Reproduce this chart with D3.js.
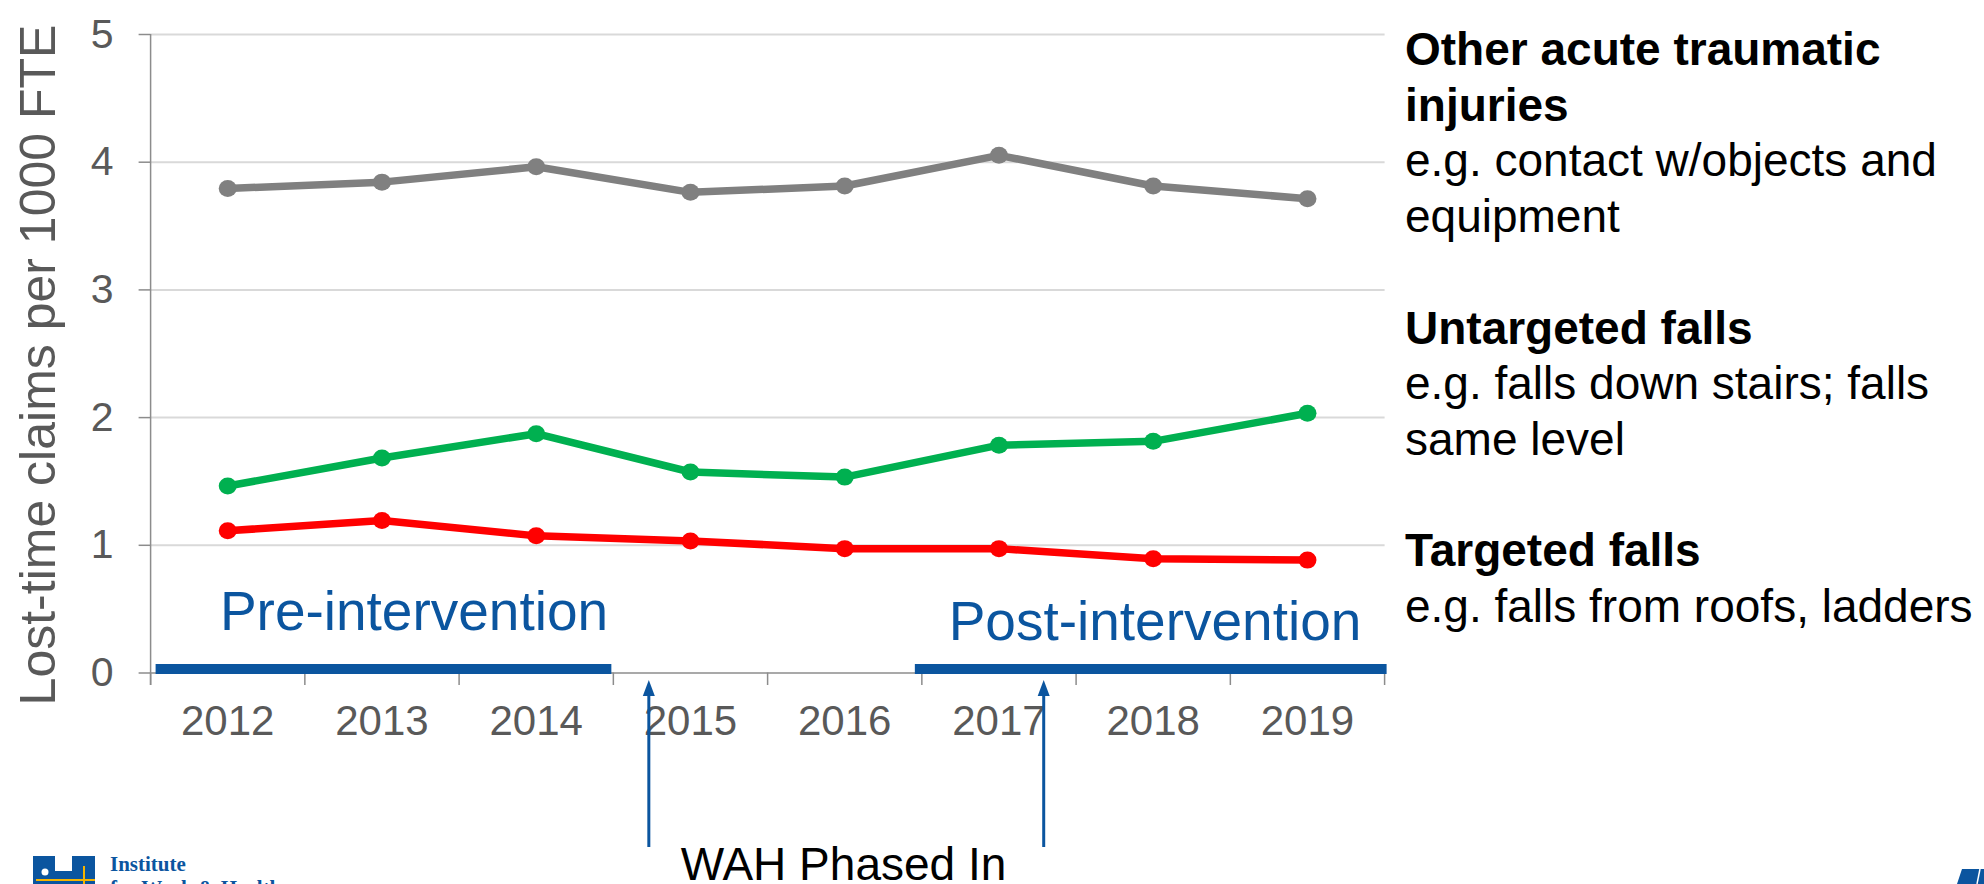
<!DOCTYPE html>
<html>
<head>
<meta charset="utf-8">
<script src="https://cdn.jsdelivr.net/npm/d3@7"></script>
<style>
  html, body { margin: 0; padding: 0; background: #ffffff; }
  svg { display: block; }
  text { font-family: "Liberation Sans", Arial, sans-serif; }
</style>
</head>
<body>
<svg id="chart" width="1984" height="884"></svg>
<script>
// ---------------- DATA ----------------
const years = ["2012", "2013", "2014", "2015", "2016", "2017", "2018", "2019"];
const otherAcute = [3.79, 3.84, 3.96, 3.76, 3.81, 4.05, 3.81, 3.71];
const untargetedFalls = [1.46, 1.68, 1.87, 1.57, 1.53, 1.78, 1.81, 2.03];
const targetedFalls = [1.11, 1.19, 1.07, 1.03, 0.97, 0.97, 0.89, 0.88];
const yTicks = [0, 1, 2, 3, 4, 5];
const seriesNames = ["Other acute traumatic injuries", "Untargeted falls", "Targeted falls"];
const prePeriod = [2012, 2015];
const postPeriod = [2017, 2020];
const phaseMarks = [2015.23, 2017.79];
const legendLines = [
  { t: "Other acute traumatic", b: true },
  { t: "injuries", b: true },
  { t: "e.g. contact w/objects and", b: false },
  { t: "equipment", b: false },
  { t: "", b: false },
  { t: "Untargeted falls", b: true },
  { t: "e.g. falls down stairs; falls", b: false },
  { t: "same level", b: false },
  { t: "", b: false },
  { t: "Targeted falls", b: true },
  { t: "e.g. falls from roofs, ladders", b: false }
];

(function () {
// ---------------- LAYOUT ----------------
const svg = d3.select("#chart");
const pLeft = 150.6, pRight = 1384.6, pTop = 34, pBottom = 672.5;
const colors = ["#808080", "#00b050", "#ff0000"];
const blue = "#0b559f";
const axisGray = "#8c8c8c";
const labelGray = "#595959";

const x = d3.scaleBand().domain(years).range([pLeft, pRight]).padding(0);
const xYear = d3.scaleLinear().domain([2012, 2020]).range([pLeft, pRight]);
const y = d3.scaleLinear().domain([0, 5]).range([pBottom, pTop]);

// gridlines
svg.append("g")
  .attr("transform", `translate(${pLeft},0)`)
  .call(d3.axisLeft(y).tickValues(yTicks.filter(d => d > 0)).tickSize(-(pRight - pLeft)).tickFormat(""))
  .call(g => g.select(".domain").remove())
  .call(g => g.selectAll("line").attr("stroke", "#d9d9d9").attr("stroke-width", 2));

// y axis
const yAxis = svg.append("g")
  .attr("transform", `translate(${pLeft},0)`)
  .call(d3.axisLeft(y).tickValues(yTicks).tickSize(12).tickPadding(25).tickFormat(d3.format("d")));
yAxis.select(".domain").remove();
yAxis.selectAll("line").attr("stroke", axisGray).attr("stroke-width", 1.5);
yAxis.selectAll("text").attr("fill", labelGray).style("font-size", "41px")
  .style("font-family", "'Liberation Sans', Arial, sans-serif");
svg.append("line").attr("x1", pLeft).attr("x2", pLeft).attr("y1", pTop).attr("y2", pBottom + 12.5)
  .attr("stroke", axisGray).attr("stroke-width", 1.5);

// x axis labels
const xAxis = svg.append("g")
  .attr("transform", `translate(0,${pBottom})`)
  .call(d3.axisBottom(x).tickSize(0).tickPadding(33));
xAxis.select(".domain").attr("stroke", axisGray).attr("stroke-width", 1.5);
xAxis.selectAll("text").attr("fill", labelGray).style("font-size", "42px")
  .style("font-family", "'Liberation Sans', Arial, sans-serif");
// x boundary ticks
const boundaries = years.map(d => x(d)).concat([x(years[years.length - 1]) + x.bandwidth()]);
svg.append("g").selectAll("line").data(boundaries).join("line")
  .attr("x1", d => d).attr("x2", d => d).attr("y1", pBottom).attr("y2", pBottom + 12.5)
  .attr("stroke", axisGray).attr("stroke-width", 1.5);

// period bars
svg.append("rect")
  .attr("x", xYear(prePeriod[0]) + 5).attr("y", pBottom - 8.5)
  .attr("width", xYear(prePeriod[1]) - xYear(prePeriod[0]) - 7).attr("height", 10)
  .attr("fill", blue);
svg.append("rect")
  .attr("x", xYear(postPeriod[0]) - 7).attr("y", pBottom - 8.5)
  .attr("width", xYear(postPeriod[1]) - xYear(postPeriod[0]) + 9).attr("height", 10)
  .attr("fill", blue);

svg.append("text").attr("x", 414).attr("y", 630).attr("text-anchor", "middle")
  .attr("fill", blue).style("font-size", "55px").text("Pre-intervention");
svg.append("text").attr("x", 1155).attr("y", 640).attr("text-anchor", "middle")
  .attr("fill", blue).style("font-size", "55px").text("Post-intervention");

// series
const allSeries = [otherAcute, untargetedFalls, targetedFalls];
const line = d3.line().x((d, i) => x(years[i]) + x.bandwidth() / 2).y(d => y(d));
allSeries.forEach((vals, si) => {
  const g = svg.append("g").attr("class", "series").attr("data-name", seriesNames[si]);
  g.append("path").datum(vals).attr("d", line).attr("fill", "none")
    .attr("stroke", colors[si]).attr("stroke-width", 7.5).attr("stroke-linejoin", "round");
  g.selectAll("ellipse").data(vals).join("ellipse")
    .attr("cx", (d, i) => x(years[i]) + x.bandwidth() / 2).attr("cy", d => y(d))
    .attr("rx", 9).attr("ry", 8.5).attr("fill", colors[si]);
});

// phase arrows
const arrowTop = 680, arrowBottom = 847;
phaseMarks.forEach(m => {
  const ax = xYear(m);
  svg.append("line").attr("x1", ax).attr("x2", ax).attr("y1", arrowTop + 10).attr("y2", arrowBottom)
    .attr("stroke", blue).attr("stroke-width", 3);
  svg.append("path")
    .attr("d", `M${ax},${arrowTop} L${ax - 6},${arrowTop + 16} L${ax + 6},${arrowTop + 16} Z`)
    .attr("fill", blue);
});
svg.append("text").attr("x", 843.5).attr("y", 880).attr("text-anchor", "middle")
  .attr("fill", "#000").style("font-size", "46px").text("WAH Phased In");

// y title
svg.append("text")
  .attr("transform", "translate(55,365) rotate(-90)")
  .attr("text-anchor", "middle").attr("fill", labelGray)
  .style("font-size", "50px").text("Lost-time claims per 1000 FTE");

// legend text block
svg.append("g").selectAll("text").data(legendLines).join("text")
  .attr("x", 1405).attr("y", (d, i) => 65 + i * 55.7)
  .attr("fill", "#000").style("font-size", "46px")
  .style("font-weight", d => d.b ? "bold" : "normal")
  .text(d => d.t);

// logo (bottom-left)
const logo = svg.append("g");
logo.append("rect").attr("x", 33).attr("y", 856).attr("width", 62).attr("height", 28).attr("fill", blue);
logo.append("rect").attr("x", 55).attr("y", 856).attr("width", 17).attr("height", 15).attr("fill", "#fff");
logo.append("circle").attr("cx", 45).attr("cy", 872).attr("r", 3.5).attr("fill", "#fff");
logo.append("line").attr("x1", 36).attr("x2", 95).attr("y1", 880).attr("y2", 880).attr("stroke", "#f5b400").attr("stroke-width", 2);
logo.append("line").attr("x1", 84).attr("x2", 84).attr("y1", 866).attr("y2", 884).attr("stroke", "#f5b400").attr("stroke-width", 2);
logo.append("text").attr("x", 110).attr("y", 871).attr("fill", blue)
  .style("font-family", "'Liberation Serif', 'DejaVu Serif', serif").style("font-weight", "bold")
  .style("font-size", "21px").text("Institute");
logo.append("text").attr("x", 110).attr("y", 895).attr("fill", blue)
  .style("font-family", "'Liberation Serif', 'DejaVu Serif', serif").style("font-weight", "bold")
  .style("font-size", "21px").text("for Work & Health");

// corner shape (bottom-right)
svg.append("path").attr("d", "M1962,869 L1984,869 L1984,884 L1957,884 Z").attr("fill", blue);
svg.append("path").attr("d", "M1980,869 L1977,884").attr("stroke", "#fff").attr("stroke-width", 1.5);
})();
</script>
</body>
</html>
